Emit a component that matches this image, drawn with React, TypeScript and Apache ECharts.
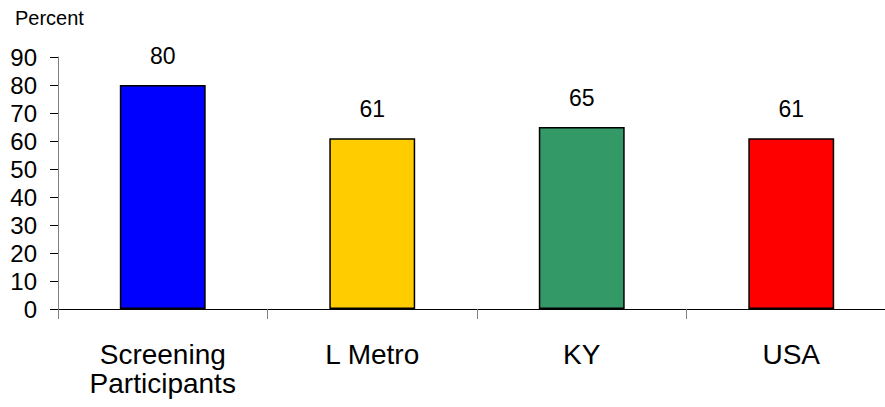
import React, { useEffect, useRef } from "react";
import * as echarts from "echarts";

const categories: string[] = ["Screening\nParticipants", "L Metro", "KY", "USA"];
const values: number[] = [80, 61, 65, 61];
const barColors: string[] = ["#0000FF", "#FFCC00", "#339966", "#FF0000"];
const yTicks = { min: 0, max: 90, interval: 10 };

const FONT = "'Liberation Sans', Arial, Helvetica, sans-serif";

export default function App() {
  const ref = useRef<HTMLDivElement>(null);

  useEffect(() => {
    if (!ref.current) return;
    const chart = echarts.init(ref.current, undefined, { renderer: "svg" });
    chart.setOption({
      animation: false,
      backgroundColor: "#ffffff",
      textStyle: { fontFamily: FONT, color: "#000" },
      graphic: [
        {
          type: "text",
          left: 15,
          top: 8,
          style: { text: "Percent", font: `20px ${FONT}`, fill: "#000" },
        },
      ],
      grid: { left: 58, right: 0, top: 57, bottom: 98, containLabel: false },
      xAxis: {
        type: "category",
        data: categories,
        axisLine: { show: true, lineStyle: { color: "#000", width: 1 } },
        axisTick: {
          show: true,
          alignWithLabel: false,
          length: 10,
          lineStyle: { color: "#808080", width: 1 },
        },
        axisLabel: {
          color: "#000",
          fontFamily: FONT,
          fontSize: 28,
          lineHeight: 29,
          margin: 31,
          interval: 0,
        },
      },
      yAxis: {
        type: "value",
        min: yTicks.min,
        max: yTicks.max,
        interval: yTicks.interval,
        axisLine: { show: true, lineStyle: { color: "#808080", width: 1 } },
        axisTick: {
          show: true,
          inside: false,
          length: 8,
          lineStyle: { color: "#000", width: 1 },
        },
        splitLine: { show: false },
        axisLabel: { color: "#000", fontFamily: FONT, fontSize: 24, margin: 21 },
      },
      series: [
        {
          type: "bar",
          barWidth: "41%",
          data: values.map((v, i) => ({
            value: v,
            itemStyle: { color: barColors[i] },
          })),
          itemStyle: { borderColor: "#000", borderWidth: 1.5 },
          label: {
            show: true,
            position: "top",
            distance: 18,
            color: "#000",
            fontFamily: FONT,
            fontSize: 23,
          },
        },
      ],
    });
    return () => chart.dispose();
  }, []);

  return (
    <div
      style={{
        position: "fixed",
        left: 0,
        top: 0,
        width: 885,
        height: 407,
        overflow: "hidden",
        background: "#fff",
      }}
    >
      <div ref={ref} style={{ width: 896, height: 407 }} />
    </div>
  );
}
